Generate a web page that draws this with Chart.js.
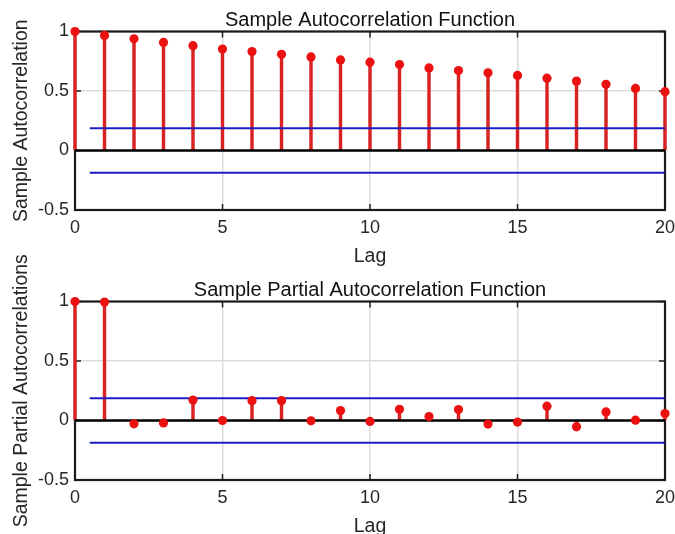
<!DOCTYPE html>
<html>
<head>
<meta charset="utf-8">
<script src="https://cdn.jsdelivr.net/npm/chart.js@4.4.1/dist/chart.umd.min.js"></script>
<style>
  html, body { margin: 0; padding: 0; overflow: hidden; background: #fff; }
  canvas { position: absolute; left: 0; top: 0; }
</style>
</head>
<body>
<canvas id="acf" width="675" height="540"></canvas>
<canvas id="pacf" width="675" height="540"></canvas>
<script>
"use strict";

const lags = [0, 1, 2, 3, 4, 5, 6, 7, 8, 9, 10, 11, 12, 13, 14, 15, 16, 17, 18, 19, 20];
const acfValues = [
  1.0, 0.967, 0.939, 0.908, 0.881, 0.853, 0.831, 0.808, 0.786, 0.761, 0.742,
  0.722, 0.694, 0.672, 0.653, 0.631, 0.608, 0.583, 0.556, 0.522, 0.494,
];
const pacfValues = [
  1.0, 0.995, -0.028, -0.02, 0.172, 0.0, 0.167, 0.167, -0.003, 0.083, -0.008,
  0.094, 0.033, 0.092, -0.03, -0.013, 0.12, -0.053, 0.072, 0.003, 0.058,
];
const bound = 0.186;
const boundStart = 0.5;

const FONT = "'Liberation Sans', Arial, Helvetica, sans-serif";

// frame + inward tick marks, drawn under the stems
const boxPlugin = {
  id: "boxPlugin",
  beforeDatasetsDraw(chart) {
    const { ctx, chartArea: a, scales } = chart;
    const len = 6;
    ctx.save();
    ctx.strokeStyle = "#222";
    ctx.lineWidth = 1.5;
    ctx.beginPath();
    scales.x.ticks.forEach((t) => {
      const px = scales.x.getPixelForValue(t.value);
      ctx.moveTo(px, a.top);
      ctx.lineTo(px, a.top + len);
      ctx.moveTo(px, a.bottom);
      ctx.lineTo(px, a.bottom - len);
    });
    scales.y.ticks.forEach((t) => {
      const py = scales.y.getPixelForValue(t.value);
      ctx.moveTo(a.left, py);
      ctx.lineTo(a.left + len, py);
      ctx.moveTo(a.right, py);
      ctx.lineTo(a.right - len, py);
    });
    ctx.stroke();
    ctx.lineWidth = 2.2;
    ctx.strokeStyle = "#1a1a1a";
    ctx.strokeRect(a.left, a.top, a.right - a.left, a.bottom - a.top);
    ctx.restore();
  },
};

function makeChart(id, titleText, yLabel, values, pad, titleTop) {
  const stems = lags.map((l, i) => ({ x: l, y: values[i] }));
  const first = lags[0];
  const last = lags[lags.length - 1];
  return new Chart(document.getElementById(id), {
    type: "scatter",
    data: {
      datasets: [
        {
          type: "bar",
          data: stems,
          backgroundColor: "#d92323",
          barThickness: 2.8,
          clip: false,
          order: 5,
        },
        {
          type: "line",
          data: [{ x: first, y: 0 }, { x: last, y: 0 }],
          borderColor: "#000",
          borderWidth: 2.5,
          pointRadius: 0,
          order: 4,
        },
        {
          type: "line",
          data: [{ x: boundStart, y: bound }, { x: last, y: bound }],
          borderColor: "#1c1cc4",
          borderWidth: 2,
          pointRadius: 0,
          order: 3,
        },
        {
          type: "line",
          data: [{ x: boundStart, y: -bound }, { x: last, y: -bound }],
          borderColor: "#1c1cc4",
          borderWidth: 2,
          pointRadius: 0,
          order: 2,
        },
        {
          type: "scatter",
          data: stems,
          pointRadius: 4.6,
          pointBackgroundColor: "#ec1111",
          pointBorderWidth: 0,
          clip: false,
          order: 1,
        },
      ],
    },
    options: {
      responsive: false,
      animation: false,
      events: [],
      layout: { padding: pad },
      plugins: {
        legend: { display: false },
        tooltip: { enabled: false },
        title: {
          display: true,
          fullSize: false,
          text: titleText,
          color: "#111",
          font: { family: FONT, size: 20, weight: "normal", lineHeight: 1 },
          padding: { top: titleTop, bottom: 1 },
        },
      },
      scales: {
        x: {
          type: "linear",
          min: 0,
          max: 20,
          offset: false,
          border: { display: false },
          grid: { color: "#dcdcdc", lineWidth: 1.5, drawTicks: false, offset: false },
          ticks: {
            stepSize: 5,
            color: "#262626",
            font: { family: FONT, size: 18 },
            padding: 7.5,
          },
          title: {
            display: true,
            text: "Lag",
            color: "#262626",
            font: { family: FONT, size: 19.5 },
            padding: { top: 0, bottom: -1.5 },
          },
          afterFit(s) {
            s.height = 57;
            s.paddingLeft = 0;
            s.paddingRight = 0;
          },
        },
        y: {
          min: -0.5,
          max: 1,
          border: { display: false },
          grid: { color: "#dcdcdc", lineWidth: 1.5, drawTicks: false },
          ticks: {
            stepSize: 0.5,
            color: "#262626",
            font: { family: FONT, size: 18 },
            padding: 6,
            callback: (v) => String(v),
          },
          title: {
            display: true,
            text: yLabel,
            color: "#262626",
            font: { family: FONT, size: 19.5 },
            padding: { top: 9.6, bottom: 0 },
          },
          afterFit(s) {
            s.width = 75;
          },
        },
      },
    },
    plugins: [boxPlugin],
  });
}

makeChart(
  "acf",
  "Sample Autocorrelation Function",
  "Sample Autocorrelation",
  acfValues,
  { left: 0, right: 10, top: 0, bottom: 273 },
  10.5
);
makeChart(
  "pacf",
  "Sample Partial Autocorrelation Function",
  "Sample Partial Autocorrelations",
  pacfValues,
  { left: 0, right: 10, top: 267, bottom: 3 },
  13.5
);
</script>
</body>
</html>
